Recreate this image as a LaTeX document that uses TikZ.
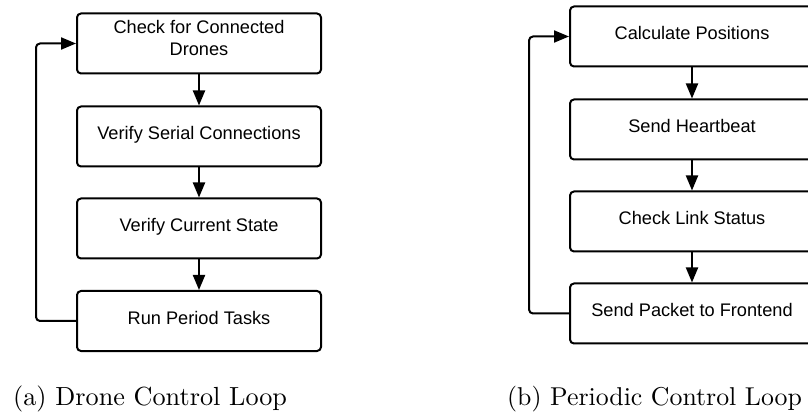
\documentclass[tikz,border=0pt]{standalone}
\usepackage{fontspec}
\newfontfamily\boxfont{Liberation Sans}
\usetikzlibrary{arrows.meta}
\begin{document}
\begin{tikzpicture}[x=1pt,y=-1pt,
  stepbox/.style={draw=black, line width=2pt, rounded corners=4pt, fill=white,
    minimum width=244pt, minimum height=60pt, inner sep=0pt,
    font=\boxfont\fontsize{18.2}{22}\selectfont, text height=13pt, text depth=6pt, align=center},
  flow/.style={line width=2pt, -{Triangle[length=15pt,width=12pt]}},
  loopline/.style={flow, rounded corners=4pt},
  captext/.style={anchor=base west, inner sep=0pt}]
\useasboundingbox (0,0) rectangle (808,419);
\clip (0,0) rectangle (808,419);
% (a)
\node[stepbox, text height=30pt, text depth=6pt] (a1) at (199,43.5) {Check for Connected\\Drones};
\node[stepbox] (a2) at (199,136.5) {Verify Serial Connections};
\node[stepbox] (a3) at (199,228.5) {Verify Current State};
\node[stepbox] (a4) at (199,321) {Run Period Tasks};
\draw[flow] (a1) -- (a2);
\draw[flow] (a2) -- (a3);
\draw[flow] (a3) -- (a4);
\draw[loopline] (a4.west) -- ++(-40,0) |- (a1.west);
% (b)
\node[stepbox] (b1) at (692,36.5) {Calculate Positions};
\node[stepbox] (b2) at (692,129.5) {Send Heartbeat};
\node[stepbox] (b3) at (692,221.5) {Check Link Status};
\node[stepbox] (b4) at (692,313.5) {Send Packet to Frontend};
\draw[flow] (b1) -- (b2);
\draw[flow] (b2) -- (b3);
\draw[flow] (b3) -- (b4);
\draw[loopline] (b4.west) -- ++(-40,0) |- (b1.west);
% captions
\node[captext] (capa) at (13,405) {\scalebox{2.62}{\fontsize{10}{12}\selectfont (a) Drone Control Loop}};
\node[captext] (capb) at (507,405) {\scalebox{2.58}{\fontsize{10}{12}\selectfont (b) Periodic Control Loop}};
\end{tikzpicture}
\end{document}
